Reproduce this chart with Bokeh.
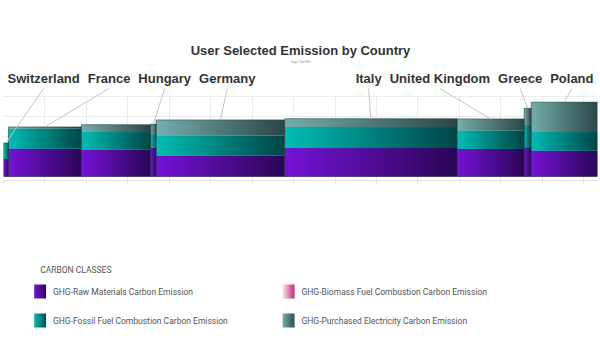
import numpy as np
from bokeh.plotting import figure
from bokeh.layouts import column
from bokeh.models import Range1d, Title, SingleIntervalTicker, ColumnDataSource, Grid
from bokeh.core.properties import value
from bokeh.embed import file_html
from bokeh.resources import INLINE

# ---------------- data ----------------
countries = ["Switzerland", "France", "", "Hungary", "Germany", "Italy",
             "United Kingdom", "Greece", "Poland"]
bar_widths = [60, 880, 835, 67, 1550, 2080, 810, 85, 800]
raw_materials = [88, 140, 134, 144, 105, 142, 138, 146, 130]
fossil_fuel = [80, 100, 88, 70, 100, 105, 92, 112, 92]
biomass_fuel = [0, 0, 0, 0, 0, 0, 0, 0, 0]
purchased_electricity = [0, 8, 37, 48, 78, 42, 58, 83, 150]
class_names = ["GHG-Raw Materials Carbon Emission",
               "GHG-Biomass Fuel Combustion Carbon Emission",
               "GHG-Fossil Fuel Combustion Carbon Emission",
               "GHG-Purchased Electricity Carbon Emission"]
title_text = "User Selected Emission by Country"
subtitle_text = "Stage: Total kWh"
legend_title = "CARBON CLASSES"

# ---------------- styles ----------------
GRADS = {
    "raw": ("#7412d6", "#2a0656"),
    "bio": ("#fbe4ef", "#c2186e"),
    "fossil": ("#00bdb5", "#004646"),
    "elec": ("#74aeac", "#2c4748"),
}
FIG_W = 600
BORDER_X = 3
FRAME_W = FIG_W - 2 * BORDER_X
CHART_H = 198
LEGEND_H = 157


def hex2rgb(h):
    h = h.lstrip("#")
    return np.array([int(h[i:i + 2], 16) for i in (0, 2, 4)], dtype=float)


def gradient(c0, c1, n=64):
    a, b = hex2rgb(c0), hex2rgb(c1)
    t = np.linspace(0, 1, n)[:, None]
    rgb = a[None, :] * (1 - t) + b[None, :] * t
    img = np.empty((1, n), dtype=np.uint32)
    v = img.view(dtype=np.uint8).reshape((1, n, 4))
    v[0, :, 0:3] = np.round(rgb).astype(np.uint8)
    v[0, :, 3] = 255
    return img


# ---------------- chart ----------------
total = float(sum(bar_widths))
lefts = np.concatenate([[0], np.cumsum(bar_widths)[:-1]]).astype(float)
rights = lefts + np.array(bar_widths, dtype=float)
centers = (lefts + rights) / 2

series = [("raw", raw_materials), ("fossil", fossil_fuel),
          ("bio", biomass_fuel), ("elec", purchased_electricity)]

p = figure(width=FIG_W, height=CHART_H, x_range=Range1d(0, total),
           y_range=Range1d(-20, 560), output_backend="svg",
           toolbar_location=None, title=None, y_axis_location=None,
           min_border_left=BORDER_X, min_border_right=BORDER_X, min_border_top=64,
           min_border_bottom=18, outline_line_color=None,
           background_fill_color="white", border_fill_color="white")
p.xgrid.visible = False
p.ygrid.visible = False

p.add_layout(Title(text=subtitle_text, align="center", text_font="Liberation Sans",
                   text_font_size="2.6px", text_font_style="normal",
                   text_color="#8a8a8a", standoff=1), "above")
p.add_layout(Title(text=title_text, align="center", text_font="Liberation Sans",
                   text_font_size="13px", text_font_style="bold",
                   text_color="#333333", standoff=2), "above")

xg = Grid(dimension=0, ticker=SingleIntervalTicker(interval=500),
          grid_line_color="#ececec", cross_bounds=(-20, 400))
yg = Grid(dimension=1, ticker=SingleIntervalTicker(interval=100),
          grid_line_color="#ececec", bounds=(0, 400))
p.add_layout(xg, "center")
p.add_layout(yg, "center")

ax = p.xaxis[0]
ax.ticker = SingleIntervalTicker(interval=500)
ax.axis_line_color = "#e0e0e0"
ax.major_tick_line_color = "#e0e0e0"
ax.major_tick_out = 3
ax.major_tick_in = 0
ax.minor_tick_line_color = None
ax.major_label_text_color = None
ax.major_label_standoff = 0

base = np.zeros(len(bar_widths))
for key, vals in series:
    vals = np.array(vals, dtype=float)
    src = ColumnDataSource(dict(left=lefts, right=rights, bottom=base.copy(), top=base + vals))
    p.quad(left="left", right="right", bottom="bottom", top="top", source=src,
           fill_color=GRADS[key][0], line_color=None)
    img = gradient(*GRADS[key])
    for i in range(len(vals)):
        if vals[i] > 0:
            p.image_rgba(image=[img], x=lefts[i], y=base[i], dw=bar_widths[i], dh=vals[i])
    base = base + vals

tops = base
p.quad(left=lefts, right=rights, bottom=np.zeros(len(tops)), top=tops,
       fill_alpha=0, line_color="#243636", line_alpha=0.45, line_width=1)

# ---- label layout (Arial/Liberation Sans Bold advance widths, per 1000 em)
CW = {"S": 667, "w": 778, "i": 278, "t": 333, "z": 500, "e": 556, "r": 389,
      "l": 278, "a": 556, "n": 611, "d": 611, "F": 611, "c": 556, "H": 722,
      "u": 611, "g": 611, "y": 556, "G": 778, "m": 889, "I": 278, "U": 722,
      "K": 722, "o": 611, "k": 556, "P": 667, " ": 278}
FS = 13
GAP = 8
PAD = 4
ppu = FRAME_W / total


def text_px(s):
    return sum(CW.get(ch, 600) for ch in s) * FS / 1000.0


items = [(centers[i] * ppu, text_px(countries[i]), i)
         for i in range(len(countries)) if countries[i]]
items.sort()


def place(cl):
    T = sum(it[1] for it in cl) + GAP * (len(cl) - 1)
    c = sum(it[0] for it in cl) / len(cl)
    s = min(max(c - T / 2, PAD), FRAME_W - PAD - T)
    return s, T


clusters = [[it] for it in items]
merged = True
while merged:
    merged = False
    out = []
    for cl in clusters:
        if out:
            s0, T0 = place(out[-1])
            s1, _ = place(cl)
            if s0 + T0 + GAP > s1:
                out[-1] = out[-1] + cl
                merged = True
                continue
        out.append(cl)
    clusters = out

lab_x, lab_idx = [], []
for cl in clusters:
    s, _ = place(cl)
    x = s
    for c, w, i in cl:
        lab_x.append((x + w / 2) / ppu)
        lab_idx.append(i)
        x += w + GAP

LABEL_Y = 490
LINE_TOP = 440
p.segment(x0=lab_x, y0=[LINE_TOP] * len(lab_x),
          x1=[centers[i] for i in lab_idx], y1=[tops[i] for i in lab_idx],
          line_color="#c4c4c4", line_width=1)
p.text(x=lab_x, y=[LABEL_Y] * len(lab_x), text=[countries[i] for i in lab_idx],
       text_align="center", text_baseline="middle",
       text_font=value("Liberation Sans"), text_font_size="13px",
       text_font_style="bold", text_color="#333333")

# ---------------- legend ----------------
q = figure(width=FIG_W, height=LEGEND_H, x_range=Range1d(0, FIG_W),
           y_range=Range1d(0, LEGEND_H), output_backend="svg",
           toolbar_location=None, x_axis_location=None, y_axis_location=None,
           min_border=0, outline_line_color=None, title=None)
q.xgrid.visible = False
q.ygrid.visible = False

q.text(x=[37], y=[LEGEND_H - 71], text=[legend_title], text_align="left",
       text_baseline="middle", text_font=value("Roboto"), text_font_size="8.5px",
       text_color="#555555")

leg_keys = ["raw", "bio", "fossil", "elec"]
col_x = [31, 282]
row_top = [86, 115]
SW, SH = 12, 14
tx, ty = [], []
for k, key in enumerate(leg_keys):
    cx = col_x[k % 2]
    rt = row_top[k // 2]
    q.image_rgba(image=[gradient(*GRADS[key])], x=cx, y=LEGEND_H - rt - SH, dw=SW, dh=SH)
    tx.append(cx + 19)
    ty.append(LEGEND_H - rt - SH / 2)
q.text(x=tx, y=ty, text=class_names, text_align="left", text_baseline="middle",
       text_font=value("Roboto"), text_font_size="8.5px", text_color="#555555")

layout = column(p, q, spacing=0)
open("out.html", "w").write(file_html(layout, INLINE))
